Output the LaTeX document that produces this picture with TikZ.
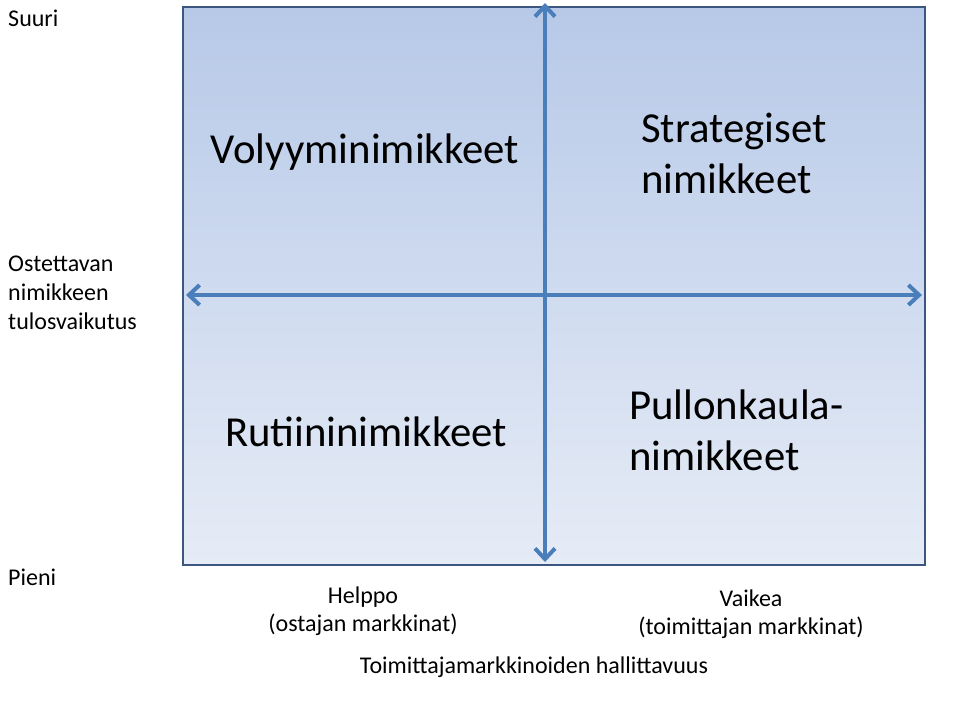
\documentclass[tikz,border=0pt]{standalone}
\usepackage{fontspec}
\setmainfont{Carlito}
\usetikzlibrary{arrows.meta}
\definecolor{axisblue}{HTML}{4A7EBB}
\definecolor{boxtop}{HTML}{B7C9E8}
\definecolor{boxbot}{HTML}{E6ECF6}
\definecolor{boxline}{HTML}{3B5780}

\begin{document}
\begin{tikzpicture}[x=0.3mm, y=-0.3mm,
    axis/.style={draw=axisblue, line width=1.2mm, {Straight Barb[length=3.2mm,width=6mm]}-{Straight Barb[length=3.2mm,width=6mm]}},
    quad/.style={font=\fontsize{36.5}{43.5}\selectfont, align=left, inner sep=0pt},
    small/.style={font=\fontsize{20.5}{24.7}\selectfont, align=left, inner sep=0pt},
    caption/.style={font=\fontsize{20.5}{24}\selectfont, align=center, inner sep=0pt}]
    \useasboundingbox (0,0) rectangle (960,720);
    % matrix box
    \shade[top color=boxtop, bottom color=boxbot] (183,7) rectangle (925,565);
    \draw[boxline, line width=0.5mm] (183,7) rectangle (925,565);
    % axes
    \coordinate (top) at (545,3);
    \coordinate (bottom) at (545,562);
    \coordinate (left) at (186,295);
    \coordinate (right) at (922,295);
    \draw[axis] (left) -- (right);
    \draw[axis] (top) -- (bottom);
    % quadrants
    \node[quad] (volyymi) at (365,152) {Volyyminimikkeet};
    \node[quad, anchor=west] (strat) at (641,153) {Strategiset\\nimikkeet};
    \node[quad] (rutiini) at (366,432) {Rutiininimikkeet};
    \node[quad, anchor=west] (pullon) at (629,430) {Pullonkaula-\\nimikkeet};
    % vertical axis labels
    \node[small, anchor=west] (suuri) at (8,18) {Suuri};
    \node[small, anchor=west] (tulos) at (8,293) {Ostettavan\\nimikkeen\\tulosvaikutus};
    \node[small, anchor=west] (pieni) at (8,577) {Pieni};
    % horizontal axis labels
    \node[caption] (helppo) at (363,611) {Helppo\\(ostajan markkinat)};
    \node[caption] (vaikea) at (751,614) {Vaikea\\(toimittajan markkinat)};
    \node[caption] (hallit) at (534,667) {Toimittajamarkkinoiden hallittavuus};
\end{tikzpicture}
\end{document}
